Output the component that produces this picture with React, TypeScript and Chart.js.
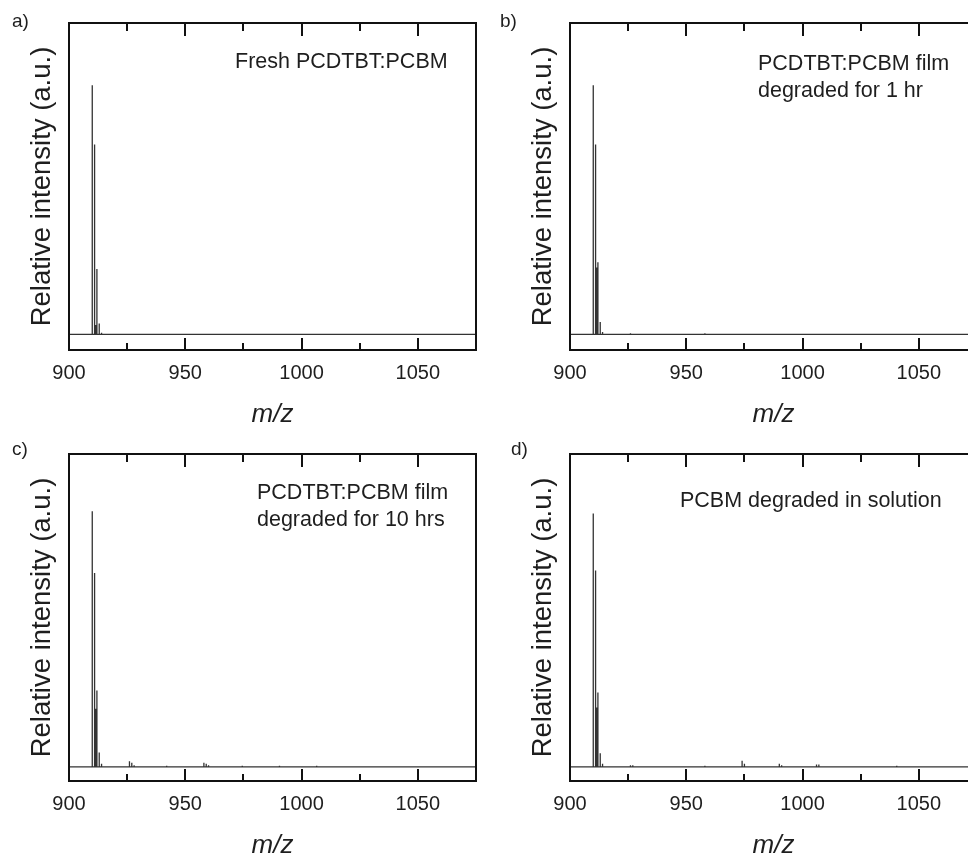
import React, { useEffect, useRef } from "react";
import { Chart, registerables } from "chart.js";

Chart.register(...registerables);

// ---- axis settings ----
const X_MIN = 900;
const X_MAX = 1075;
const X_STEP = 25;
const X_LABEL_EVERY = 50;
const Y_MAX = 1;

const X_TITLE = "m/z";
const Y_TITLE = "Relative intensity (a.u.)";

// ---- spectra (m/z, relative intensity) ----
const MZ_A = [910, 911, 911.5, 912, 913, 914];
const INT_A = [0.8, 0.61, 0.03, 0.21, 0.035, 0.005];

const MZ_B = [910, 911, 911.5, 912, 913, 914, 926, 958];
const INT_B = [0.8, 0.61, 0.215, 0.232, 0.04, 0.008, 0.004, 0.004];

const MZ_C = [910, 911, 911.5, 912, 913, 914, 926, 927, 928, 942, 958, 959, 960, 974.5, 990.5, 1006.5];
const INT_C = [0.817, 0.62, 0.186, 0.244, 0.046, 0.01, 0.018, 0.013, 0.005, 0.004, 0.013, 0.01, 0.005, 0.004, 0.004, 0.004];

const MZ_D = [910, 911, 911.5, 912, 913, 914, 926, 927, 958, 974, 975, 990, 991, 1006, 1007, 1040.5];
const INT_D = [0.81, 0.628, 0.19, 0.238, 0.044, 0.01, 0.005, 0.005, 0.004, 0.02, 0.01, 0.01, 0.005, 0.008, 0.008, 0.004];

const PANEL_LETTERS = ["a)", "b)", "c)", "d)"];
const PANEL_NOTES = [
  ["Fresh PCDTBT:PCBM"],
  ["PCDTBT:PCBM film", "degraded for 1 hr"],
  ["PCDTBT:PCBM film", "degraded for 10 hrs"],
  ["PCBM degraded in solution"],
];
const Y_MINS = [-0.05, -0.05, -0.045, -0.045];

// ---- layout / style ----
const FONT = "'Liberation Sans', Arial, sans-serif";
const TEXT_COLOR = "#1e1e1e";
const CANVAS_W = 480;
const CANVAS_H = 430;
const LAYOUT = [
  { left: 0, top: 0, letter: { x: 12, y: 10 }, note: { x: 235, y: 48 } },
  { left: 501, top: 0, letter: { x: 500, y: 10 }, note: { x: 758, y: 50 } },
  { left: 0, top: 431, letter: { x: 12, y: 438 }, note: { x: 257, y: 479 } },
  { left: 501, top: 431, letter: { x: 511, y: 438 }, note: { x: 680, y: 487 } },
];

function buildPoints(mz: number[], inten: number[]) {
  const idx = mz.map((_, i) => i).sort((a, b) => mz[a] - mz[b]);
  const pts: { x: number; y: number }[] = [{ x: X_MIN, y: 0 }];
  idx.forEach((i) => {
    pts.push({ x: mz[i], y: 0 });
    pts.push({ x: mz[i], y: inten[i] });
    pts.push({ x: mz[i], y: 0 });
  });
  pts.push({ x: X_MAX, y: 0 });
  return pts;
}

const framePlugin = {
  id: "frame",
  afterDraw(chart: any) {
    const { ctx, chartArea } = chart;
    const { left, right, top, bottom } = chartArea;
    const xs = chart.scales.x;
    ctx.save();
    ctx.strokeStyle = "#111";
    ctx.lineWidth = 2;
    ctx.strokeRect(left, top, right - left, bottom - top);
    xs.ticks.forEach((t: any) => {
      if (t.value <= X_MIN || t.value >= X_MAX) return;
      const px = Math.round(xs.getPixelForValue(t.value));
      const major = t.value % X_LABEL_EVERY === 0;
      const lenB = major ? 12 : 7;
      const lenT = major ? 13 : 8;
      ctx.beginPath();
      ctx.moveTo(px, bottom);
      ctx.lineTo(px, bottom - lenB);
      ctx.moveTo(px, top);
      ctx.lineTo(px, top + lenT);
      ctx.stroke();
    });
    ctx.restore();
  },
};

function Spectrum(props: { mz: number[]; inten: number[]; yMin: number; left: number; top: number }) {
  const ref = useRef<HTMLCanvasElement>(null);
  useEffect(() => {
    const chart = new Chart(ref.current as HTMLCanvasElement, {
      type: "line",
      data: {
        datasets: [
          {
            data: buildPoints(props.mz, props.inten),
            borderColor: "#333",
            borderWidth: 1.3,
            pointRadius: 0,
            tension: 0,
            fill: false,
            borderJoinStyle: "bevel",
          } as any,
        ],
      },
      options: {
        animation: false,
        responsive: false,
        devicePixelRatio: 1,
        layout: { padding: { top: 23, right: 4, left: 0, bottom: 0 } },
        plugins: {
          legend: { display: false },
          tooltip: { enabled: false },
          title: { display: false },
        },
        scales: {
          x: {
            type: "linear",
            min: X_MIN,
            max: X_MAX,
            grid: { display: false },
            border: { display: false },
            ticks: {
              stepSize: X_STEP,
              autoSkip: false,
              maxRotation: 0,
              padding: 3,
              color: TEXT_COLOR,
              font: { family: FONT, size: 20 },
              callback: (v: any) => (Number(v) % X_LABEL_EVERY === 0 ? String(v) : ""),
            },
            title: {
              display: true,
              text: X_TITLE,
              color: TEXT_COLOR,
              font: { family: FONT, size: 26, style: "italic" },
              padding: { top: 0, bottom: 0 },
            },
            afterFit: (s: any) => {
              s.height = 80;
            },
          },
          y: {
            type: "linear",
            min: props.yMin,
            max: Y_MAX,
            grid: { display: false },
            border: { display: false },
            ticks: { display: false },
            title: {
              display: true,
              text: Y_TITLE,
              color: TEXT_COLOR,
              font: { family: FONT, size: 27.5 },
              padding: { top: 26, bottom: 0 },
            },
            afterFit: (s: any) => {
              s.width = 69;
            },
          },
        },
      } as any,
      plugins: [framePlugin],
    });
    return () => chart.destroy();
  }, []);
  return (
    <canvas
      ref={ref}
      width={CANVAS_W}
      height={CANVAS_H}
      style={{ position: "absolute", left: props.left, top: props.top, width: CANVAS_W, height: CANVAS_H }}
    />
  );
}

const SERIES = [
  { mz: MZ_A, inten: INT_A },
  { mz: MZ_B, inten: INT_B },
  { mz: MZ_C, inten: INT_C },
  { mz: MZ_D, inten: INT_D },
];

export default function App() {
  return (
    <div
      style={{
        position: "fixed",
        left: 0,
        top: 0,
        width: 968,
        height: 859,
        overflow: "hidden",
        background: "#fff",
        fontFamily: FONT,
        color: TEXT_COLOR,
      }}
    >
      {SERIES.map((s, i) => (
        <React.Fragment key={i}>
          <Spectrum mz={s.mz} inten={s.inten} yMin={Y_MINS[i]} left={LAYOUT[i].left} top={LAYOUT[i].top} />
          <div
            style={{
              position: "absolute",
              left: LAYOUT[i].letter.x,
              top: LAYOUT[i].letter.y,
              fontSize: 19,
              lineHeight: "22px",
              whiteSpace: "nowrap",
            }}
          >
            {PANEL_LETTERS[i]}
          </div>
          <div
            style={{
              position: "absolute",
              left: LAYOUT[i].note.x,
              top: LAYOUT[i].note.y,
              fontSize: 21.5,
              lineHeight: "27px",
              whiteSpace: "nowrap",
            }}
          >
            {PANEL_NOTES[i].map((line, j) => (
              <div key={j}>{line}</div>
            ))}
          </div>
        </React.Fragment>
      ))}
    </div>
  );
}
